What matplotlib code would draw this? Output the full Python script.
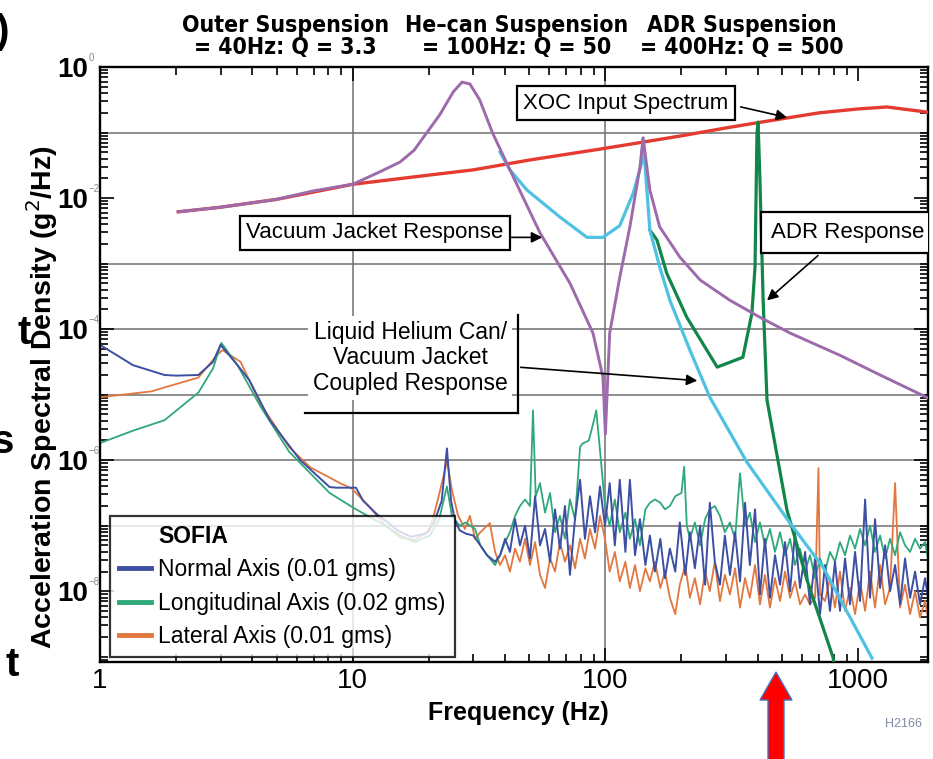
import numpy as np
import matplotlib
matplotlib.use("Agg")
import matplotlib.pyplot as plt
from matplotlib import font_manager as fm
from matplotlib.lines import Line2D
from matplotlib.patches import Polygon
from matplotlib.ticker import FixedLocator, FixedFormatter, LogLocator, NullFormatter

plt.rcParams['font.family'] = ['Liberation Sans', 'DejaVu Sans']

# ---- data: (frequency Hz, log10 PSD g^2/Hz) ----
xoc = [(2.04, -2.21), (3, -2.14), (5, -2.02), (10, -1.79), (20, -1.65), (30, -1.57),
       (50, -1.42), (100, -1.24), (200, -1.05), (300, -0.93), (400, -0.85), (500, -0.79),
       (700, -0.70), (1000, -0.64), (1300, -0.61), (1891, -0.69)]

vacuum_jacket = [(2.04, -2.21), (3, -2.14), (5, -2.02), (7, -1.89), (10, -1.79), (12.8, -1.60),
                 (15.4, -1.45), (17.5, -1.27), (19, -1.08), (22.1, -0.73), (25, -0.38),
                 (27.1, -0.23), (29.1, -0.26), (31.8, -0.50), (35.8, -1.01), (41.9, -1.57),
                 (55.1, -2.53), (72.4, -3.30), (89.3, -4.06), (97.8, -4.73), (100, -5.6),
                 (104, -4.06), (114, -3.21), (125, -2.44), (137, -1.53), (141, -1.08),
                 (150, -1.88), (164, -2.44), (197, -2.90), (237, -3.25), (311, -3.56),
                 (409, -3.82), (538, -4.06), (848, -4.40), (1222, -4.70), (1891, -5.05)]

he_can = [(38.3, -1.30), (41.9, -1.57), (49, -1.88), (66.1, -2.29), (84.6, -2.60),
          (97.8, -2.60), (114, -2.42), (129, -1.92), (139, -1.47), (141, -1.10),
          (150, -2.49), (164, -3.05), (180, -3.56), (216, -4.32), (259, -5.04),
          (363, -6.03), (538, -6.96), (726, -7.63), (1135, -9.02)]

adr = [(150, -2.49), (160, -2.64), (175, -3.15), (210, -3.82), (277, -4.58), (350, -4.43),
       (380, -3.76), (391, -3.05), (398, -1.01), (402, -0.84), (409, -1.73), (421, -3.56),
       (436, -5.08), (523, -6.76), (628, -7.83), (796, -9.01), (820, -9.3)]

sofia_normal = [(1.0, -4.24), (1.35, -4.55), (1.8, -4.70), (2.0, -4.71), (2.45, -4.70),
                (2.8, -4.50), (3.0, -4.24), (3.5, -4.55), (3.9, -4.78), (4.7, -5.39),
                (6.2, -6.00), (8.1, -6.41), (8.6, -6.42), (10.3, -6.42), (11.0, -6.62),
                (12.5, -6.83), (13.8, -6.95), (15.0, -7.07), (17.0, -7.17), (19.5, -7.12),
                (21.0, -6.95), (22.5, -6.62), (23.6, -5.82), (24.5, -6.62), (25.4, -6.92),
                (26.5, -7.07), (28, -7.12), (30, -7.15), (32, -7.30), (34, -7.45),
                (36.6, -7.55), (38.3, -7.45), (40.1, -7.20), (41.9, -7.40), (43.9, -6.90),
                (45.9, -7.30), (48.1, -7.00), (50.3, -7.50), (52.7, -6.55), (55.1, -7.30),
                (57.7, -7.05), (60.4, -7.55), (63.2, -6.75), (66.1, -7.35), (69.2, -6.70),
                (72.4, -7.75), (75.8, -6.90), (79.4, -6.30), (83, -7.20), (86.9, -6.55),
                (91, -7.10), (95.2, -6.40), (99.6, -7.00), (104, -6.35), (109, -7.30),
                (114, -6.30), (120, -7.40), (125, -6.30), (131, -7.45), (137, -6.90),
                (144, -7.60), (150, -7.15), (157, -7.70), (165, -7.20), (172, -7.80),
                (180, -7.35), (189, -7.70), (197, -6.95), (207, -7.75), (216, -7.10),
                (226, -7.65), (237, -7.00), (248, -7.90), (259, -6.65), (271, -7.55),
                (284, -7.90), (297, -7.15), (311, -7.75), (326, -7.10), (341, -7.85),
                (357, -6.65), (373, -7.60), (391, -6.75), (409, -8.05), (428, -7.20),
                (448, -8.10), (469, -7.45), (491, -7.90), (514, -7.25), (538, -8.00),
                (563, -7.10), (589, -7.95), (617, -7.40), (645, -8.20), (676, -7.50),
                (707, -8.35), (740, -7.60), (774, -8.30), (810, -7.55), (848, -8.30),
                (888, -7.50), (929, -8.20), (973, -7.40), (1018, -8.15), (1066, -6.60),
                (1115, -8.10), (1167, -6.90), (1222, -7.95), (1279, -7.30), (1338, -8.00),
                (1401, -7.60), (1466, -8.20), (1534, -7.50), (1606, -8.10), (1681, -7.70),
                (1759, -8.20), (1841, -7.80), (1891, -8.10)]

sofia_long = [(1.0, -5.74), (1.35, -5.55), (1.8, -5.39), (2.45, -4.97), (2.8, -4.60),
              (3.02, -4.21), (3.5, -4.55), (4.3, -5.17), (5.6, -5.87), (8.1, -6.50),
              (10, -6.72), (11.7, -6.87), (13.5, -7.00), (15.4, -7.15), (17.6, -7.25),
              (20.2, -7.15), (22, -6.90), (23.6, -6.40), (24.7, -6.85), (26.5, -7.00),
              (28, -6.95), (30.5, -7.05), (32, -7.30), (34, -7.45), (36.6, -7.60),
              (38.3, -7.45), (40.1, -7.25), (41.9, -7.10), (43.9, -6.85), (45.9, -6.70),
              (48.1, -6.60), (50.3, -6.70), (51.7, -5.24), (53, -6.55), (55.1, -6.35),
              (57.7, -6.80), (60.4, -6.50), (63.2, -7.10), (66.1, -6.85), (69.2, -7.20),
              (72.4, -6.60), (75.8, -6.90), (79.4, -5.80), (81, -5.75), (86, -5.70),
              (90, -5.40), (92, -5.24), (96, -6.00), (99.6, -6.70), (104, -7.00),
              (109, -6.60), (114, -7.10), (120, -6.80), (125, -7.20), (131, -6.90),
              (137, -7.30), (144, -6.75), (150, -6.65), (157, -6.60), (165, -6.65),
              (172, -6.75), (180, -6.70), (189, -6.55), (200, -6.50), (205, -6.10),
              (210, -7.00), (216, -7.20), (226, -6.95), (237, -7.30), (248, -6.90),
              (259, -6.75), (271, -6.70), (284, -6.85), (297, -7.10), (311, -6.95),
              (326, -7.20), (341, -6.20), (357, -7.00), (373, -6.80), (391, -7.25),
              (409, -6.95), (428, -7.30), (448, -7.05), (469, -7.40), (491, -7.10),
              (514, -7.45), (538, -7.20), (563, -7.60), (589, -7.35), (617, -7.70),
              (645, -7.45), (676, -7.80), (707, -7.50), (740, -7.70), (774, -7.40),
              (810, -7.55), (848, -7.25), (888, -7.45), (929, -7.15), (973, -7.35),
              (1018, -7.05), (1066, -7.30), (1115, -7.00), (1167, -7.40), (1222, -7.15),
              (1279, -7.50), (1338, -7.20), (1401, -7.45), (1466, -7.10), (1534, -7.30),
              (1606, -7.40), (1681, -7.20), (1759, -7.35), (1841, -7.25), (1891, -7.50)]

sofia_lat = [(1.0, -5.04), (1.6, -4.95), (1.8, -4.89), (2.45, -4.74), (2.9, -4.40),
             (3.05, -4.32), (3.6, -4.50), (4.3, -5.13), (5.6, -5.80), (6.8, -6.11),
             (8.9, -6.35), (9.9, -6.43), (11.7, -6.72), (13.4, -6.99), (15.4, -7.18),
             (17.6, -7.22), (20.2, -7.07), (21.7, -6.61), (23.2, -6.15), (23.6, -6.00),
             (24.7, -6.46), (26.1, -6.84), (27.8, -7.05), (29.1, -6.85), (30.5, -7.20),
             (32, -7.10), (34.9, -6.96), (36.6, -7.40), (38.3, -7.60), (40.1, -7.45),
             (41.9, -7.70), (43.9, -7.35), (45.9, -7.55), (48.1, -7.20), (50.3, -7.60),
             (52.7, -7.25), (55.1, -7.75), (57.7, -7.95), (60.4, -7.50), (63.2, -7.70),
             (66.1, -7.25), (69.2, -7.55), (72.4, -7.30), (75.8, -7.65), (79.4, -7.20),
             (83, -7.50), (86.9, -7.05), (91, -7.35), (95.2, -6.85), (99.6, -7.20),
             (104, -7.70), (109, -7.40), (114, -7.85), (120, -7.55), (125, -7.95),
             (131, -7.60), (137, -8.00), (144, -7.65), (150, -7.85), (157, -7.55),
             (165, -7.95), (172, -7.70), (180, -8.10), (189, -8.35), (197, -7.90),
             (207, -7.60), (216, -8.10), (226, -7.80), (237, -8.20), (248, -7.70),
             (259, -8.00), (271, -7.55), (284, -8.15), (297, -7.75), (311, -8.05),
             (326, -7.65), (341, -8.25), (357, -7.80), (373, -8.10), (391, -7.60),
             (409, -8.20), (428, -7.75), (448, -8.25), (469, -7.80), (491, -8.15),
             (514, -7.70), (538, -8.10), (563, -7.85), (589, -8.20), (617, -8.05),
             (645, -8.20), (676, -8.10), (697, -6.12), (707, -8.05), (740, -8.15),
             (774, -7.80), (810, -8.25), (848, -7.70), (888, -8.30), (929, -7.95),
             (973, -8.35), (1018, -7.85), (1066, -8.30), (1115, -7.70), (1167, -8.25),
             (1222, -7.60), (1279, -8.20), (1338, -7.95), (1401, -6.35), (1466, -8.25),
             (1534, -7.90), (1606, -8.35), (1681, -8.00), (1759, -8.40), (1841, -8.15),
             (1891, -8.40)]

legend_labels = ['SOFIA', 'Normal Axis (0.01 gms)', 'Longitudinal Axis (0.02 gms)',
                 'Lateral Axis (0.01 gms)']
headers = [(5.4, 'Outer Suspension\n= 40Hz: Q = 3.3'),
           (44.7, 'He\u2013can Suspension\n= 100Hz: Q = 50'),
           (347, 'ADR Suspension\n= 400Hz: Q = 500')]
y_exponents = [0, -2, -4, -6, -8]
x_ticks = [1, 10, 100, 1000]
grid_y = [-1, -3, -4, -5, -6, -7]
grid_x = [10, 100]


def unpack(pairs):
    arr = np.array(pairs, dtype=float)
    return arr[:, 0], 10 ** arr[:, 1]


# a condensed bold face for the header lines, if one is installed
cond = [f for f in fm.fontManager.ttflist
        if any(k in f.name + ' ' + f.fname for k in ('Narrow', 'Condensed'))]
cond_bold = [f for f in cond if 'Bold' in f.fname and 'Italic' not in f.fname
             and 'Oblique' not in f.fname]
if cond_bold:
    head_font = dict(fontproperties=fm.FontProperties(fname=cond_bold[0].fname, size=16.5))
else:
    head_font = dict(fontsize=14, fontweight='bold')

fig = plt.figure(figsize=(9.33, 7.59), dpi=100)
ax = fig.add_axes([100 / 933, 1 - 662 / 759, 828 / 933, 595 / 759])
ax.set_xscale('log')
ax.set_yscale('log')
ax.set_xlim(1, 1891)
ax.set_ylim(10 ** -9.08, 1)

for g in grid_y:
    ax.axhline(10.0 ** g, color='#707070', lw=1.1, zorder=0.5)
for g in grid_x:
    ax.axvline(g, color='#707070', lw=1.1, zorder=0.5)

# SOFIA measured spectra
c_norm, c_long, c_lat = '#3d4fa3', '#2fa87a', '#e2773f'
f, v = unpack(sofia_lat)
ax.plot(f, v, color=c_lat, lw=1.3, zorder=2)
f, v = unpack(sofia_long)
ax.plot(f, v, color=c_long, lw=1.3, zorder=2.1)
f, v = unpack(sofia_normal)
ax.plot(f, v, color=c_norm, lw=1.4, zorder=2.2)

# model responses
f, v = unpack(xoc)
ax.plot(f, v, color='#e53a2f', lw=2.4, zorder=3)
f, v = unpack(adr)
ax.plot(f, v, color='#12864a', lw=2.3, zorder=3.1)
f, v = unpack(he_can)
ax.plot(f, v, color='#4fc1e3', lw=2.3, zorder=3.2)
f, v = unpack(vacuum_jacket)
ax.plot(f, v, color='#9d6aab', lw=2.1, zorder=3.3)

# axes styling
for s in ax.spines.values():
    s.set_linewidth(1.7)
ax.xaxis.set_major_locator(FixedLocator(x_ticks))
ax.xaxis.set_major_formatter(FixedFormatter([str(t) for t in x_ticks]))
ax.xaxis.set_minor_locator(LogLocator(base=10, subs=np.arange(2, 10)))
ax.xaxis.set_minor_formatter(NullFormatter())
ax.yaxis.set_major_locator(FixedLocator([10.0 ** e for e in y_exponents]))
ax.yaxis.set_major_formatter(FixedFormatter(['10'] * len(y_exponents)))
ax.yaxis.set_minor_locator(LogLocator(base=10, subs=np.arange(1, 10), numticks=30))
ax.yaxis.set_minor_formatter(NullFormatter())
ax.tick_params(which='both', direction='in', top=True, right=True, width=1.2)
ax.tick_params(which='major', length=10)
ax.tick_params(which='minor', length=6)
ax.tick_params(axis='x', labelsize=20, pad=4)
ax.tick_params(axis='y', labelsize=20, pad=8.5)
for lab in ax.get_yticklabels():
    lab.set_fontweight('bold')
for e in y_exponents:
    ax.annotate(str(e).replace('-', '\u2212'), xy=(0, 10.0 ** e),
                xycoords=('axes fraction', 'data'), xytext=(-8, 3), textcoords='offset points',
                ha='left', va='bottom', fontsize=7, color='#8a8a8a')

# legend
handles = [Line2D([], [], color='none'),
           Line2D([], [], color=c_norm, lw=3.5),
           Line2D([], [], color=c_long, lw=3.5),
           Line2D([], [], color=c_lat, lw=3.5)]
leg = ax.legend(handles, legend_labels, loc='lower left', bbox_to_anchor=(0.012, 0.008),
                borderaxespad=0, fancybox=False, edgecolor='black', framealpha=0.8,
                fontsize=16.5, handlelength=1.4, handletextpad=0.3, labelspacing=0.45,
                borderpad=0.4)
leg.get_frame().set_linewidth(1.6)
leg.set_zorder(4)
leg.get_texts()[0].set_fontweight('bold')

# annotation boxes
box = dict(boxstyle='square,pad=0.3', fc='white', ec='black', lw=1.6)
arrow = dict(arrowstyle='-|>', color='black', lw=1.2, mutation_scale=16)
ax.text(120.6, 10 ** -0.55, 'XOC Input Spectrum', fontsize=16, ha='center', va='center',
        bbox=box, zorder=5)
ax.annotate('', xy=(537, 10 ** -0.78), xytext=(335, 10 ** -0.60), arrowprops=arrow, zorder=5)
ax.text(12.25, 10 ** -2.53, 'Vacuum Jacket Response', fontsize=16, ha='center', va='center',
        bbox=box, zorder=5)
ax.annotate('', xy=(57.7, 10 ** -2.60), xytext=(41.2, 10 ** -2.60), arrowprops=arrow, zorder=5)
ax.text(910, 10 ** -2.52, 'ADR Response', fontsize=16, ha='center', va='center',
        bbox=dict(box, boxstyle='square,pad=0.45'), zorder=5, clip_on=True)
ax.annotate('', xy=(428, 10 ** -3.59), xytext=(707, 10 ** -2.85), arrowprops=arrow, zorder=5)
ax.text(16.9, 10 ** -4.44, 'Liquid Helium Can/\nVacuum Jacket\nCoupled Response', fontsize=16.5,
        ha='center', va='center', linespacing=1.15,
        bbox=dict(boxstyle='square,pad=0.2', fc='white', ec='none'), zorder=5)
ax.annotate('', xy=(237, 10 ** -4.79), xytext=(45.1, 10 ** -4.58), arrowprops=arrow, zorder=5)
fig.add_artist(Line2D([518 / 933, 518 / 933], [1 - 315 / 759, 1 - 413 / 759], color='black', lw=1.6))
fig.add_artist(Line2D([305 / 933, 518 / 933], [1 - 413 / 759, 1 - 413 / 759], color='black', lw=1.6))

# headers above the plot
for fx, txt in headers:
    ax.annotate(txt, xy=(fx, 1), xycoords=('data', 'axes fraction'), xytext=(0, 6),
                textcoords='offset points', ha='center', va='bottom', linespacing=0.95,
                **head_font)

fig.text(42 / 933, 1 - 397 / 759, 'Acceleration Spectral Density (g$^2$/Hz)', rotation=90,
         ha='center', va='center', fontsize=20.5, fontweight='bold')
fig.text(518 / 933, 1 - 713 / 759, 'Frequency (Hz)', ha='center', va='center', fontsize=18,
         fontweight='bold')
fig.text(903 / 933, 1 - 724 / 759, 'H2166', ha='center', va='center', fontsize=9, color='#7d8aa0')

# slide fragments and red pointer
for px, py, ch in [(9, 32, ')'), (31, 333, 't'), (14, 442, 's'), (19, 665, 't')]:
    fig.text(px / 933, 1 - py / 759, ch, ha='right', va='center', fontsize=29, fontweight='bold')
pts = [(776, 672), (792, 700), (784, 700), (784, 760), (768, 760), (768, 700), (760, 700)]
fig.add_artist(Polygon([(x / 933, 1 - y / 759) for x, y in pts], closed=True,
                       transform=fig.transFigure, fc='#ff0000', ec='#4a72c4', lw=1))

fig.savefig('out.png', dpi=100)
